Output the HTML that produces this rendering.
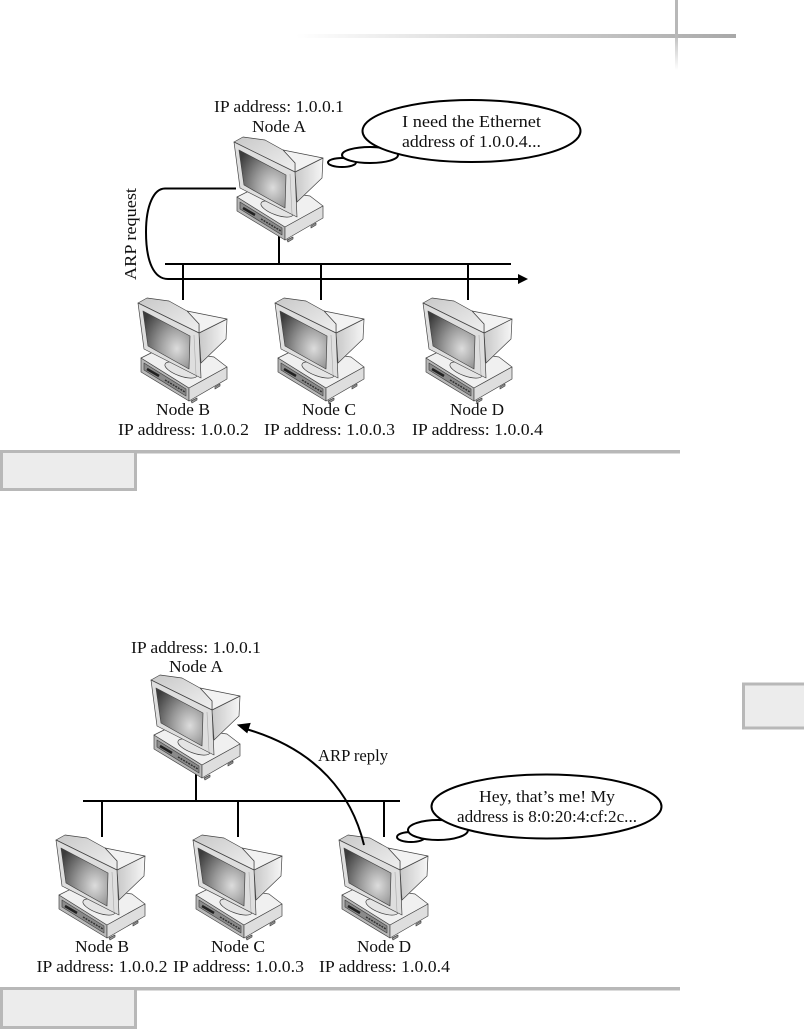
<!DOCTYPE html>
<html><head><meta charset="utf-8"><style>
html,body{margin:0;padding:0;background:#fff}
svg{display:block}
text{font-family:"Liberation Serif",serif;font-size:16.5px;fill:#111;text-anchor:middle}
</style></head><body>
<svg width="804" height="1029" viewBox="0 0 804 1029" xmlns="http://www.w3.org/2000/svg">
<defs>
<radialGradient id="scr" cx="0.72" cy="0.65" r="0.85"><stop offset="0" stop-color="#dcdcdc"/><stop offset="0.45" stop-color="#989898"/><stop offset="1" stop-color="#3c3c3c"/></radialGradient>
<linearGradient id="hd" x1="0" x2="1" y1="0" y2="0"><stop offset="0" stop-color="#fff"/><stop offset="1" stop-color="#a8a8a8"/></linearGradient>
<linearGradient id="vd" x1="0" x2="0" y1="0" y2="1"><stop offset="0" stop-color="#c4c4c4"/><stop offset="1" stop-color="#fff"/></linearGradient>
<linearGradient id="side" x1="0" x2="1" y1="0" y2="0"><stop offset="0" stop-color="#c8c8c8"/><stop offset="1" stop-color="#f6f6f6"/></linearGradient>
<linearGradient id="top" x1="0" x2="1" y1="0" y2="1"><stop offset="0" stop-color="#c8c8c8"/><stop offset="1" stop-color="#f0f0f0"/></linearGradient>
<g id="pc" stroke="#444" stroke-width="0.7" stroke-linejoin="round">
<!-- base -->
<path d="M12 67 L60 97 L60 110 L12 81Z" fill="#b8b8b8"/>
<path d="M12 67 L30 58 L85 66 L98 76 L60 97Z" fill="#f0f0f0"/>
<path d="M60 97 L98 76 L98 88 L60 110Z" fill="#dedede"/>
<path d="M15 72 L57 98 L57 105 L15 79Z" fill="#8a8a8a"/>
<path d="M18 78 L30 85" stroke="#222" stroke-width="2.5" fill="none"/>
<path d="M36 89 L56 101" stroke="#333" stroke-width="1.5" stroke-dasharray="2 1" fill="none"/>
<path d="M62 110 L68 107 L68 109 L63 112Z M86 96 L91 93 L91 95 L86 98Z" fill="#999"/>
<!-- stand -->
<ellipse cx="52" cy="79" rx="17" ry="6" transform="rotate(20 52 79)" fill="#e4e4e4"/>
<!-- monitor -->
<path d="M70 42 L98 28 L97 48 L72 72Z" fill="url(#side)"/>
<path d="M58 20 L98 28 L70 42 L70 33Z" fill="#f2f2f2"/>
<path d="M9 12 L18 7 L40 10 L58 20 L70 33 L70 42Z" fill="url(#top)"/>
<path d="M9 12 L70 42 L72 87 L15 58Z" fill="#dedede"/>
<path d="M65 44 L67 84" stroke="#aaa" stroke-width="0.6" fill="none"/>
<path d="M14 20 L61 45 L60 78 L19 55Z" fill="url(#scr)"/>
</g>
</defs>

<!-- header rule -->
<rect x="296" y="34" width="440" height="4" fill="url(#hd)"/>
<rect x="675" y="0" width="3" height="38" fill="#b8b8b8"/>
<rect x="675" y="38" width="3" height="32" fill="url(#vd)"/>

<!-- figure 1 wires -->
<g stroke="#000" stroke-width="2" fill="none">
<path d="M165 264H511M279 236V264M183 264V300M321 264V300M468 264V300"/>
<path d="M236 188.5H165C154 188.5 146 205 146 232C146 262 154 279 168 279H518"/>
</g>
<path d="M518 274 L528 279 L518 284Z" fill="#000"/>

<use href="#pc" x="225" y="130"/>
<use href="#pc" x="129" y="291"/>
<use href="#pc" x="266" y="291"/>
<use href="#pc" x="414" y="291"/>

<g stroke="#000" stroke-width="2" fill="#fff">
<ellipse cx="342" cy="162.5" rx="14" ry="4.5"/>
<ellipse cx="370" cy="155" rx="28" ry="8"/>
<ellipse cx="471.5" cy="131" rx="109" ry="31"/>
</g>

<text x="279" y="112" textLength="130" lengthAdjust="spacingAndGlyphs">IP address: 1.0.0.1</text>
<text x="279" y="132" textLength="54" lengthAdjust="spacingAndGlyphs">Node A</text>
<text x="471.5" y="127" textLength="139" lengthAdjust="spacingAndGlyphs">I need the Ethernet</text>
<text x="471.5" y="147" textLength="139" lengthAdjust="spacingAndGlyphs">address of 1.0.0.4...</text>
<text transform="translate(136 234) rotate(-90)" textLength="92" lengthAdjust="spacingAndGlyphs">ARP request</text>
<text x="183" y="415" textLength="54" lengthAdjust="spacingAndGlyphs">Node B</text>
<text x="183.5" y="435" textLength="131" lengthAdjust="spacingAndGlyphs">IP address: 1.0.0.2</text>
<text x="329" y="415" textLength="54" lengthAdjust="spacingAndGlyphs">Node C</text>
<text x="329.5" y="435" textLength="131" lengthAdjust="spacingAndGlyphs">IP address: 1.0.0.3</text>
<text x="477" y="415" textLength="54" lengthAdjust="spacingAndGlyphs">Node D</text>
<text x="477.5" y="435" textLength="131" lengthAdjust="spacingAndGlyphs">IP address: 1.0.0.4</text>

<!-- caption 1 -->
<rect x="0" y="450" width="680" height="3.5" fill="#b8b8b8"/>
<rect x="1.5" y="451.5" width="134" height="38" fill="#ececec" stroke="#b8b8b8" stroke-width="3"/>

<!-- side tab -->
<rect x="743.5" y="684" width="70" height="44" fill="#ececec" stroke="#b8b8b8" stroke-width="3"/>

<!-- figure 2 wires -->
<path d="M83 801H400M196 773V801M102 801V837M238 801V837M384 801V837" stroke="#000" stroke-width="2" fill="none"/>

<use href="#pc" x="142" y="668"/>
<use href="#pc" x="47" y="828"/>
<use href="#pc" x="184" y="828"/>
<use href="#pc" x="330" y="828"/>

<path d="M364 845C352 795 318 750 246 729" stroke="#000" stroke-width="2" fill="none"/>
<path d="M238 725 L250 723.5 L247 732.5Z" fill="#000" stroke="#000"/>

<g stroke="#000" stroke-width="2" fill="#fff">
<ellipse cx="411" cy="837" rx="14" ry="5"/>
<ellipse cx="438" cy="830" rx="30" ry="10"/>
<ellipse cx="546.5" cy="806.5" rx="115" ry="32"/>
</g>

<text x="196" y="653" textLength="130" lengthAdjust="spacingAndGlyphs">IP address: 1.0.0.1</text>
<text x="196" y="672" textLength="54" lengthAdjust="spacingAndGlyphs">Node A</text>
<text x="353" y="761" textLength="70" lengthAdjust="spacingAndGlyphs">ARP reply</text>
<text x="547" y="802" textLength="136" lengthAdjust="spacingAndGlyphs">Hey, that’s me! My</text>
<text x="547" y="822" textLength="180" lengthAdjust="spacingAndGlyphs">address is 8:0:20:4:cf:2c...</text>
<text x="102" y="952" textLength="54" lengthAdjust="spacingAndGlyphs">Node B</text>
<text x="102" y="972" textLength="131" lengthAdjust="spacingAndGlyphs">IP address: 1.0.0.2</text>
<text x="238" y="952" textLength="54" lengthAdjust="spacingAndGlyphs">Node C</text>
<text x="238.5" y="972" textLength="131" lengthAdjust="spacingAndGlyphs">IP address: 1.0.0.3</text>
<text x="384" y="952" textLength="54" lengthAdjust="spacingAndGlyphs">Node D</text>
<text x="384.5" y="972" textLength="131" lengthAdjust="spacingAndGlyphs">IP address: 1.0.0.4</text>

<!-- caption 2 -->
<rect x="0" y="987" width="680" height="3.5" fill="#b8b8b8"/>
<rect x="1.5" y="988.5" width="134" height="39" fill="#ececec" stroke="#b8b8b8" stroke-width="3"/>
</svg>
</body></html>
